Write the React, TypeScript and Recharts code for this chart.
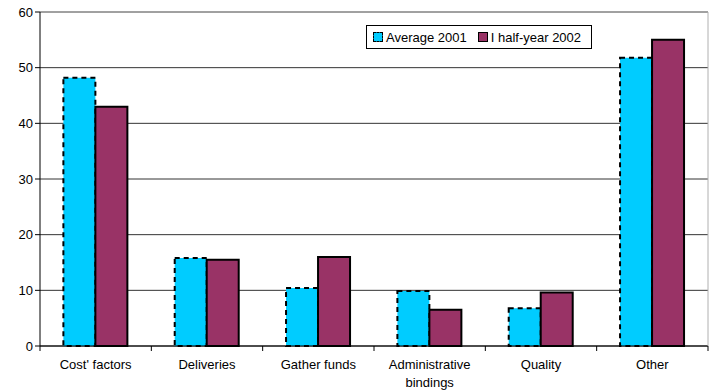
import { BarChart, Bar, XAxis, YAxis, CartesianGrid, ReferenceLine } from "recharts";

const categories = ["Cost' factors", "Deliveries", "Gather funds", "Administrative bindings", "Quality", "Other"];
const avg2001 = [48.2, 15.8, 10.4, 9.9, 6.8, 51.8];
const half2002 = [43.0, 15.5, 16.0, 6.5, 9.6, 55.0];
const yTicks = [0, 10, 20, 30, 40, 50, 60];

const data = categories.map((name, i) => ({ name, avg: avg2001[i], half: half2002[i] }));

const FONT = "'Liberation Sans', Arial, sans-serif";
const CYAN = "#00ccff";
const MAROON = "#993366";

function CatTick(props: any) {
  const { x, y, payload, index } = props;
  const band = 668 / categories.length;
  const words: string[] = payload.value === "Administrative bindings" ? ["Administrative", "bindings"] : [payload.value];
  return (
    <g>
      <line x1={x - band / 2} x2={x - band / 2} y1={y - 8} y2={y - 3} stroke="#000" />
      {index === categories.length - 1 && (
        <line x1={x + band / 2} x2={x + band / 2} y1={y - 8} y2={y - 3} stroke="#000" />
      )}
      <text x={x} y={y + 15} textAnchor="middle" fontSize={13} fill="#000" fontFamily={FONT}>
        {words.map((w, i) => (
          <tspan key={i} x={x} dy={i === 0 ? 0 : 18}>{w}</tspan>
        ))}
      </text>
    </g>
  );
}

function LegendBox() {
  return (
    <div
      style={{
        position: "absolute",
        left: 366,
        top: 25,
        border: "1px solid #000",
        background: "#fff",
        display: "flex",
        alignItems: "center",
        fontFamily: FONT,
        fontSize: 13,
        height: 24,
        boxSizing: "border-box",
        padding: "0 10px 0 6px",
        gap: 3,
        whiteSpace: "nowrap",
      }}
    >
      <span style={{ width: 8, height: 8, background: CYAN, border: "1px dashed #000", display: "inline-block" }} />
      <span style={{ marginRight: 8 }}>Average 2001</span>
      <span style={{ width: 8, height: 8, background: MAROON, border: "1px solid #000", display: "inline-block" }} />
      <span>I half-year 2002</span>
    </div>
  );
}

export default function App() {
  return (
    <div style={{ position: "absolute", left: 0, top: 0, width: 717, height: 392, background: "#fff" }}>
      <BarChart
        width={717}
        height={392}
        data={data}
        margin={{ top: 12, right: 8, bottom: 0, left: 0 }}
        barCategoryGap="21%"
        barGap={0}
      >
        <CartesianGrid vertical={false} stroke="#333" />
        <XAxis
          dataKey="name"
          interval={0}
          tickLine={false}
          axisLine={{ stroke: "#000" }}
          tick={<CatTick />}
          height={46}
        />
        <YAxis
          domain={[0, 60]}
          ticks={yTicks}
          width={40}
          axisLine={{ stroke: "#000" }}
          tickLine={{ stroke: "#000" }}
          tickSize={5}
          tick={{ fontSize: 13, fill: "#000", fontFamily: FONT }}
        />
        <YAxis
          yAxisId="r"
          orientation="right"
          domain={[0, 60]}
          width={1}
          tick={false}
          tickLine={false}
          axisLine={{ stroke: "#b0b0b0" }}
        />
        <ReferenceLine y={60} stroke="#a8a8a8" />
        <Bar
          dataKey="avg"
          name="Average 2001"
          fill={CYAN}
          stroke="#000"
          strokeWidth={2}
          strokeDasharray="5 4"
          isAnimationActive={false}
        />
        <Bar
          dataKey="half"
          name="I half-year 2002"
          fill={MAROON}
          stroke="#000"
          strokeWidth={2}
          isAnimationActive={false}
        />
      </BarChart>
      <LegendBox />
    </div>
  );
}
